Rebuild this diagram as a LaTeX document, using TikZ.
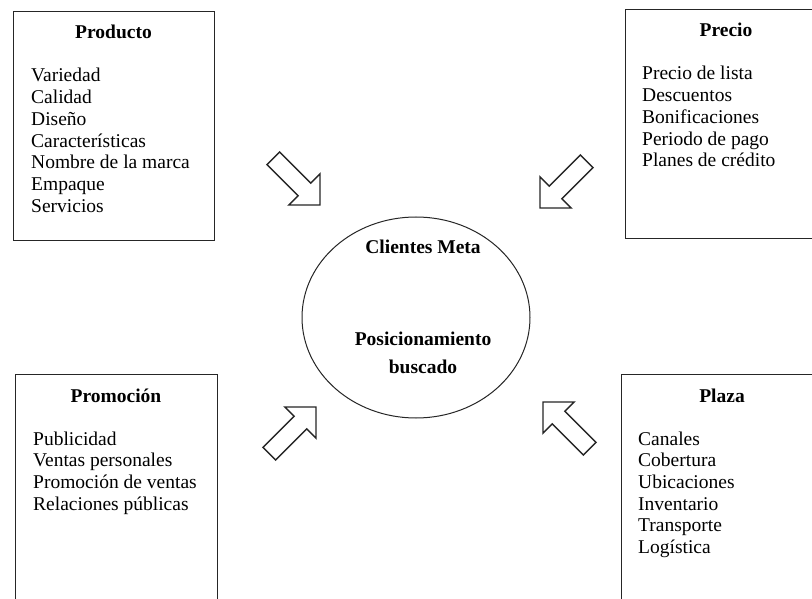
\documentclass[tikz,border=0pt]{standalone}
\usepackage{fontspec}
\setmainfont{Liberation Serif}
\usetikzlibrary{shapes.geometric}
\tikzset{
  box/.style={draw=black!85, line width=1.4pt, minimum width=202pt, anchor=north west, inner sep=0pt},
  ttl/.style={font=\fontsize{19.5}{21.7}\selectfont\bfseries, anchor=base, inner sep=0pt},
  item/.style={font=\fontsize{19.5}{21.7}\selectfont, anchor=base west, inner sep=0pt},
  ctext/.style={font=\fontsize{19.5}{21.7}\selectfont\bfseries, anchor=base, inner sep=0pt},
  blockarrow/.style={draw=black!85, line width=1.4pt, line join=miter, fill=white}
}
\newcommand{\blockarr}[2]{%
  \draw[blockarrow, shift={(#1)}, rotate=#2]
    (0,0) -- (-22,22) -- (-22,9) -- (-66,9) -- (-66,-9) -- (-22,-9) -- (-22,-22) -- cycle;}
\begin{document}
\begin{tikzpicture}[x=1pt,y=-1pt]
\clip (0,0) rectangle (812,599);
\fill[white] (0,0) rectangle (812,599);

% Producto
\node[box, minimum width=201pt, minimum height=229pt] (producto) at (13,11) {};
\node[ttl] (prodt) at (113.5,39) {Producto};
\foreach \t [count=\i] in {Variedad,Calidad,Diseño,Características,Nombre de la marca,Empaque,Servicios}
  \node[item] (prod-\i) at (31,{82+21.7*(\i-1)}) {\t};

% Precio
\node[box, minimum height=229pt] (precio) at (625,9) {};
\node[ttl] (prect) at (726,37) {Precio};
\foreach \t [count=\i] in {Precio de lista,Descuentos,Bonificaciones,Periodo de pago,Planes de crédito}
  \node[item] (prec-\i) at (642,{80+21.7*(\i-1)}) {\t};

% Promocion
\node[box, minimum height=240pt] (promo) at (15,374) {};
\node[ttl] (promt) at (116,402) {Promoción};
\foreach \t [count=\i] in {Publicidad,Ventas personales,Promoción de ventas,Relaciones públicas}
  \node[item] (prom-\i) at (33,{445+21.7*(\i-1)}) {\t};

% Plaza
\node[box, minimum height=240pt] (plaza) at (621,374) {};
\node[ttl] (plazt) at (722,402) {Plaza};
\foreach \t [count=\i] in {Canales,Cobertura,Ubicaciones,Inventario,Transporte,Logística}
  \node[item] (plaz-\i) at (638,{445+21.7*(\i-1)}) {\t};

% Centro
\node[draw=black!85, line width=1pt, ellipse, minimum width=228pt, minimum height=201pt, inner sep=0pt] (centro) at (416,317.5) {};
\node[ctext] (cm) at (423,253) {Clientes Meta};
\node[ctext] (pos) at (423,345) {Posicionamiento};
\node[ctext] (bus) at (423,373) {buscado};

% Flechas
\coordinate (tipA) at (320,205);
\coordinate (tipB) at (540,208);
\coordinate (tipC) at (316,407);
\coordinate (tipD) at (543,402);
\blockarr{tipA}{-45}
\blockarr{tipB}{-135}
\blockarr{tipC}{45}
\blockarr{tipD}{135}
\end{tikzpicture}
\end{document}
